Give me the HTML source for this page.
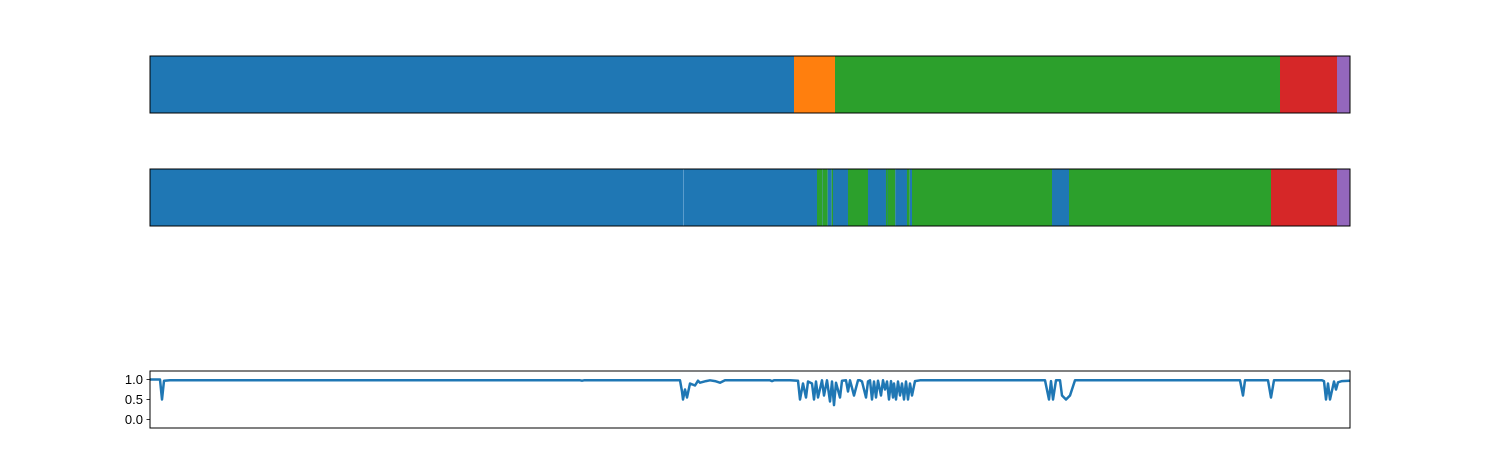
<!DOCTYPE html>
<html><head><meta charset="utf-8"><style>
html,body{margin:0;padding:0;background:#fff;}
svg{display:block;font-family:"Liberation Sans","DejaVu Sans",sans-serif;}
</style></head><body>
<svg id="fig" width="1500" height="450"></svg>
<script>
// Data
const bar1Starts = [0, 644, 685, 1130, 1187];
const bar1Ends = [644, 685, 1130, 1187, 1200];
const bar1Cats = [0, 1, 2, 3, 4];
const bar2Starts = [0, 667, 672.7, 673, 677.7, 681.7, 683, 698, 718, 736, 737.3, 745.3, 757, 759.7, 762, 902, 919, 1121, 1187];
const bar2Ends = [667, 672.7, 673, 677.7, 681.7, 683, 698, 718, 736, 745.3, 737.7, 757, 759.7, 762, 902, 919, 1121, 1187, 1200];
const bar2Cats = [0, 2, 0, 2, 0, 2, 0, 2, 0, 2, 0, 0, 2, 0, 2, 0, 2, 3, 4];
const lineX = [0,10,12,14,20,430,432,434,530,532,533,535,537,540,545,548,550,556,560,565,570,575,620,622,624,640,648,650,653,656,658,662,664,666,668,672,674,677,680,682,684,686,690,692,696,698,700,704,708,710,712,716,718,720,722,724,726,728,731,733,735,737,739,741,743,744,746,748,750,752,754,756,758,760,762,765,770,780,880,895,899,901,903,906,910,912,916,920,925,940,1010,1090,1093,1095,1100,1118,1121,1124,1130,1172,1174,1176,1178,1180,1184,1186,1188,1192,1200];
const lineY = [1.0,1.0,0.5,0.97,0.98,0.98,0.97,0.98,0.98,0.7,0.5,0.75,0.55,0.9,0.85,0.97,0.92,0.96,0.98,0.96,0.92,0.98,0.98,0.96,0.98,0.98,0.97,0.5,0.9,0.55,0.95,0.9,0.5,0.95,0.55,0.98,0.6,0.98,0.45,0.95,0.36,0.92,0.55,0.97,0.98,0.7,0.98,0.6,0.98,0.98,0.95,0.55,0.95,0.98,0.5,0.95,0.55,0.97,0.6,0.98,0.75,0.95,0.5,0.96,0.55,0.9,0.5,0.95,0.6,0.9,0.5,0.95,0.5,0.9,0.6,0.96,0.98,0.98,0.98,0.98,0.5,0.96,0.5,0.98,0.98,0.6,0.5,0.6,0.98,0.98,0.98,0.98,0.6,0.98,0.98,0.98,0.55,0.98,0.98,0.98,0.96,0.5,0.9,0.5,0.95,0.75,0.93,0.96,0.97];
const yTicks = [1.0, 0.5, 0.0];
const yTickLabels = ["1.0", "0.5", "0.0"];
const colors = ["#1f77b4","#ff7f0e","#2ca02c","#d62728","#9467bd"];

const NS = "http://www.w3.org/2000/svg";
const svg = document.getElementById("fig");
function mk(tag, attrs){const e=document.createElementNS(NS,tag);for(const k in attrs)e.setAttribute(k,attrs[k]);svg.appendChild(e);return e;}
const X0=150, X1=1350, XMAX=1200;
const xScale = v => X0 + v/XMAX*(X1-X0);

function drawBar(top, starts, ends, cats, name){
  for(let i=0;i<starts.length;i++){
    const r = mk("rect",{x:xScale(starts[i]),y:top,width:Math.max(0,xScale(ends[i])-xScale(starts[i])),height:57,fill:colors[cats[i]]});
    
    
  }
  const f = mk("rect",{x:X0,y:top,width:X1-X0,height:57,fill:"none",stroke:"#000","stroke-width":1});
  
  
}
drawBar(56, bar1Starts, bar1Ends, bar1Cats, 'top-bar');
drawBar(169, bar2Starts, bar2Ends, bar2Cats, 'middle-bar');
const stripe = mk("rect",{x:683,y:169.5,width:1,height:56,fill:"#5a9ccc"});



// line chart
const LT=371, LB=428;
const yScale = v => 379.5 - (v-1)*40;
let d="";
for(let i=0;i<lineX.length;i++){d+=(i?"L":"M")+xScale(lineX[i]).toFixed(1)+","+yScale(lineY[i]).toFixed(1);}
const cp = mk("clipPath",{id:"clp"});
const cr = document.createElementNS(NS,"rect");cr.setAttribute("x",X0);cr.setAttribute("y",LT);cr.setAttribute("width",X1-X0);cr.setAttribute("height",LB-LT);cp.appendChild(cr);
const p = mk("path",{d:d,fill:"none",stroke:"#1f77b4","stroke-width":2.5,"stroke-linejoin":"round","clip-path":"url(#clp)"});


const lf = mk("rect",{x:X0,y:LT,width:X1-X0,height:LB-LT,fill:"none",stroke:"#000","stroke-width":1});


for(let i=0;i<yTicks.length;i++){
  const y=yScale(yTicks[i]);
  const t=mk("line",{x1:X0-3.5,x2:X0,y1:y,y2:y,stroke:"#000","stroke-width":0.8});
  
  
  const tx=mk("text",{x:X0-7,y:y+4.5,"text-anchor":"end","font-size":13,fill:"#000"});
  tx.textContent=yTickLabels[i];
  
  
}
</script>
</body></html>
